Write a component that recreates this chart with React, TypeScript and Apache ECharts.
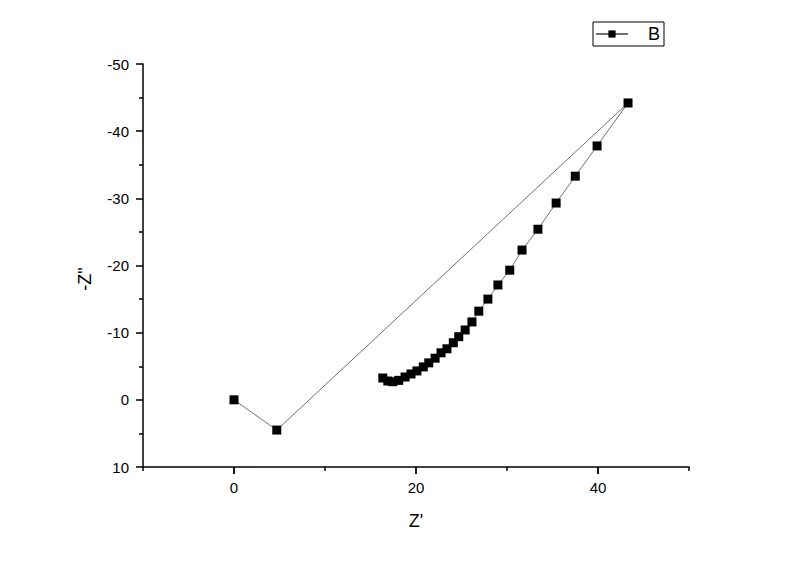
import React, { useEffect, useRef } from "react";
import * as echarts from "echarts";

const seriesName = "B";
const zReal = [
  0, 4.7, 43.3, 39.9, 37.5, 35.4, 33.4, 31.65, 30.3, 29.0, 27.9, 26.9, 26.15,
  25.4, 24.7, 24.1, 23.4, 22.75, 22.1, 21.4, 20.8, 20.1, 19.45, 18.8, 18.1,
  17.45, 16.9, 16.35,
];
const zImag = [
  0, 4.5, -44.2, -37.8, -33.3, -29.3, -25.4, -22.3, -19.3, -17.1, -15.0, -13.2,
  -11.6, -10.4, -9.4, -8.5, -7.6, -7.0, -6.2, -5.5, -4.9, -4.3, -3.85, -3.4,
  -2.9, -2.7, -2.8, -3.25,
];
const xMajorTickValues = [0, 20, 40];
const xAxisName = "Z'";
const yAxisName = '-Z"';

const FONT = "'Liberation Sans', Arial, sans-serif";

const X_MIN = -10;
const X_MAX = 50;
const Y_MIN = -50;
const Y_MAX = 10;
const GRID_LEFT = 143;
const GRID_RIGHT = 111;
const GRID_TOP = 64;
const GRID_BOTTOM = 94;
const CHART_W = 800;

export default function App() {
  const ref = useRef<HTMLDivElement>(null);
  useEffect(() => {
    if (!ref.current) return;
    const chart = echarts.init(ref.current, undefined, { renderer: "svg" });
    const data = zReal.map((x, i) => [x, zImag[i]]);
    const plotW = CHART_W - GRID_LEFT - GRID_RIGHT;
    const pxPerUnit = plotW / (X_MAX - X_MIN);
    const g2Left = GRID_LEFT + (xMajorTickValues[0] - X_MIN) * pxPerUnit;
    const g2Right =
      CHART_W - (GRID_LEFT + (xMajorTickValues[xMajorTickValues.length - 1] - X_MIN) * pxPerUnit);
    chart.setOption({
      animation: false,
      backgroundColor: "#fff",
      grid: [
        { left: GRID_LEFT, right: GRID_RIGHT, top: GRID_TOP, bottom: GRID_BOTTOM },
        { left: g2Left, right: g2Right, top: GRID_TOP, bottom: GRID_BOTTOM },
      ],
      legend: {
        data: [seriesName],
        left: 593,
        top: 22,
        padding: [3, 4, 3, 2],
        borderColor: "#000",
        borderWidth: 1,
        itemWidth: 32,
        itemHeight: 9,
        textStyle: {
          fontFamily: FONT,
          fontSize: 18,
          color: "#000",
          padding: [0, 0, 0, 15],
        },
      },
      xAxis: [
        {
          type: "value",
          gridIndex: 0,
          min: X_MIN,
          max: X_MAX,
          interval: 20,
          name: xAxisName,
          nameLocation: "middle",
          nameGap: 45,
          nameTextStyle: { fontFamily: FONT, fontSize: 18, color: "#000" },
          axisLine: { show: true, onZero: false, lineStyle: { color: "#000", width: 1.5 } },
          axisTick: { show: true, length: 4, lineStyle: { color: "#000", width: 1.5 } },
          axisLabel: { show: false },
          splitLine: { show: false },
        },
        {
          type: "value",
          gridIndex: 1,
          min: xMajorTickValues[0],
          max: xMajorTickValues[xMajorTickValues.length - 1],
          interval: 20,
          axisLine: { show: false, onZero: false },
          axisTick: { show: true, length: 7, lineStyle: { color: "#000", width: 1.5 } },
          axisLabel: {
            fontFamily: FONT,
            fontSize: 15,
            color: "#000",
            margin: 13,
            showMinLabel: true,
            showMaxLabel: true,
          },
          splitLine: { show: false },
        },
      ],
      yAxis: [
        {
          type: "value",
          gridIndex: 0,
          inverse: true,
          min: Y_MIN,
          max: Y_MAX,
          interval: 10,
          axisLine: { show: true, onZero: false, lineStyle: { color: "#000", width: 1.5 } },
          axisTick: { show: true, length: 7, lineStyle: { color: "#000", width: 1.5 } },
          minorTick: {
            show: true,
            splitNumber: 2,
            length: 4,
            lineStyle: { color: "#000", width: 1.5 },
          },
          axisLabel: { fontFamily: FONT, fontSize: 15, color: "#000", margin: 14 },
          splitLine: { show: false },
          minorSplitLine: { show: false },
        },
        {
          type: "value",
          gridIndex: 1,
          show: false,
          min: Y_MIN,
          max: Y_MAX,
        },
      ],
      graphic: [
        {
          type: "text",
          x: 85,
          y: 279,
          rotation: Math.PI / 2,
          style: {
            text: yAxisName,
            font: `18px ${FONT}`,
            fill: "#000",
            align: "center",
            verticalAlign: "middle",
          },
        },
      ],
      series: [
        {
          name: seriesName,
          type: "line",
          xAxisIndex: 0,
          yAxisIndex: 0,
          data,
          symbol: "rect",
          symbolSize: 9,
          showAllSymbol: true,
          itemStyle: { color: "#000" },
          lineStyle: { color: "#707070", width: 1 },
          z: 3,
        },
        {
          name: "majorTicks",
          type: "scatter",
          xAxisIndex: 0,
          yAxisIndex: 0,
          data: xMajorTickValues.map((v) => [v, Y_MAX]),
          symbol: "rect",
          symbolSize: [1.5, 7],
          symbolOffset: [0, 3.5],
          itemStyle: { color: "#000" },
          clip: false,
          silent: true,
          z: 1,
        },
      ],
    });
    return () => chart.dispose();
  }, []);
  return <div ref={ref} style={{ width: 800, height: 561, margin: -8 }} />;
}
